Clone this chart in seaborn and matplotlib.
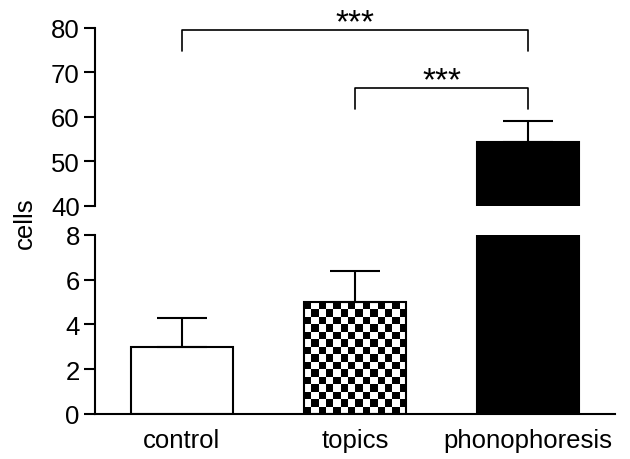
import numpy as np
import pandas as pd
import matplotlib
matplotlib.use("Agg")
import matplotlib.pyplot as plt
import seaborn as sns

groups = ["control", "topics", "phonophoresis"]
means = [3.0, 5.0, 54.4]
sem = [1.3, 1.4, 4.8]
colors = ["white", "white", "black"]
# significance brackets: (left group, right group, height)
brackets = [(0, 2, 79.5), (1, 2, 66.5)]
stars = "***"

df = pd.DataFrame({"group": groups, "cells": means})

sns.set_style("ticks")
plt.rcParams["font.family"] = ["Liberation Sans", "DejaVu Sans"]
plt.rcParams.update({
    "axes.linewidth": 1.5,
    "axes.edgecolor": "black",
    "text.color": "black",
    "xtick.color": "black",
    "ytick.color": "black",
    "axes.labelcolor": "black",
})

fig = plt.figure(figsize=(6.3, 4.6), dpi=100)
ax_top = fig.add_axes([0.151, 0.55, 0.825, 0.387])
ax_bot = fig.add_axes([0.151, 0.098, 0.825, 0.389])

for ax in (ax_top, ax_bot):
    sns.barplot(data=df, x="group", y="cells", hue="group", order=groups,
                palette=dict(zip(groups, colors)), edgecolor="black",
                linewidth=1.5, width=0.59, errorbar=None, legend=False, ax=ax)
    ax.errorbar(range(len(groups)), means, yerr=[np.zeros(len(sem)), sem],
                fmt="none", ecolor="black", elinewidth=1.5, capsize=18,
                capthick=1.5, zorder=5)
    ax.set_xlim(-0.5, 2.5)
    ax.set_xlabel("")
    ax.set_ylabel("")
    ax.tick_params(axis="y", labelsize=18.5, length=8, width=1.5, pad=3)
    sns.despine(ax=ax)

# top segment
ax_top.set_ylim(40, 80)
ax_top.set_yticks([40, 50, 60, 70, 80])
ax_top.spines["bottom"].set_visible(False)
ax_top.tick_params(axis="x", bottom=False, labelbottom=False)

# bottom segment
ax_bot.set_ylim(0, 8)
ax_bot.set_yticks([0, 2, 4, 6, 8])
ax_bot.tick_params(axis="x", length=0, labelsize=18.5, pad=10)

# checkered fill for topics
bar = ax_bot.containers[1][0]
x0, w, h = bar.get_x(), bar.get_width(), bar.get_height()
nx, ny = 14, 15
checker = (np.indices((ny, nx)).sum(axis=0) % 2).astype(float)
img = ax_bot.imshow(checker, cmap="gray", vmin=0, vmax=1, interpolation="nearest",
                    extent=(x0, x0 + w, 0, h), aspect="auto", origin="upper", zorder=2)
img.set_clip_path(bar)
bar.set_facecolor("none")
bar.set_zorder(3)
ax_bot.set_xlim(-0.5, 2.5)
ax_bot.set_ylim(0, 8)

# significance brackets
for left, right, y in brackets:
    ax_top.plot([left, left, right, right], [y - 4.6, y, y, y - 4.6],
                color="black", lw=1.2, clip_on=False, zorder=6)
    ax_top.text((left + right) / 2, y - 0.2, stars, ha="center", va="baseline",
                fontsize=24, clip_on=False)

fig.text(0.04, 0.515, "cells", rotation=90, ha="center", va="center", fontsize=18.5)

fig.savefig("out.png", dpi=100)
